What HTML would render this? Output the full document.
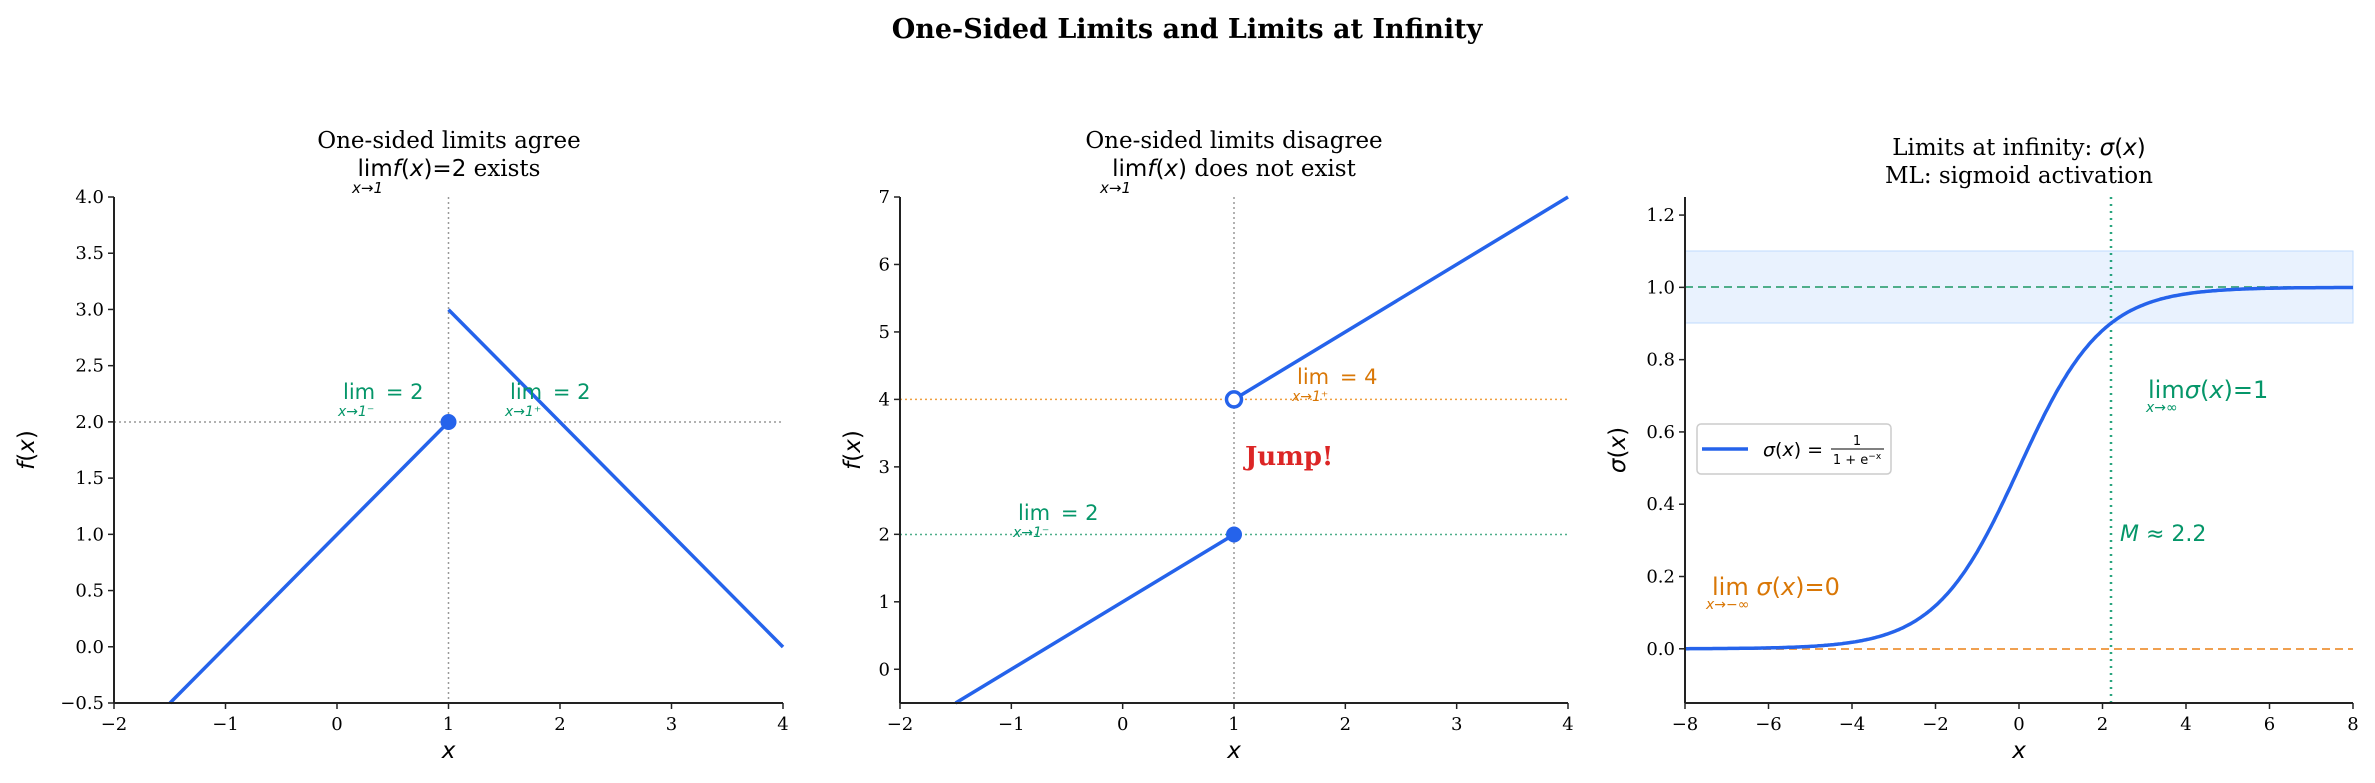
<!DOCTYPE html>
<html><head><meta charset="utf-8"><style>
body{margin:0;background:#fff}
svg{display:block}
.tk{font-family:"DejaVu Serif","Liberation Serif",serif;font-size:18px;fill:#000}
.ti{font-family:"DejaVu Serif","Liberation Serif",serif;font-size:23px;fill:#000}
.m{font-family:"DejaVu Sans","Liberation Sans",sans-serif}
</style></head><body>
<svg id="s" width="2375" height="783" viewBox="0 0 2375 783" xmlns="http://www.w3.org/2000/svg">
<text x="1187" y="38" text-anchor="middle" style="font-family:'DejaVu Serif',serif;font-size:27px;font-weight:bold">One-Sided Limits and Limits at Infinity</text>

<!-- Panel 1 -->
<g>
<text class="ti" x="449" y="148" text-anchor="middle">One-sided limits agree</text>
<text class="ti" x="449" y="176" text-anchor="middle"><tspan class="m">lim</tspan><tspan class="m" font-style="italic">f</tspan><tspan class="m">(</tspan><tspan class="m" font-style="italic">x</tspan><tspan class="m">)=2</tspan> exists</text>
<text class="m" x="352" y="193" font-size="15" font-style="italic">x→1</text>
<line x1="448.5" y1="197" x2="448.5" y2="703" stroke="#999" stroke-width="1.5" stroke-dasharray="2,3"/>
<line x1="114" y1="422" x2="783" y2="422" stroke="#999" stroke-width="1.5" stroke-dasharray="2,3"/>
<line x1="170" y1="703" x2="448.5" y2="422" stroke="#2563eb" stroke-width="3.5"/>
<line x1="448.5" y1="309.6" x2="783" y2="647" stroke="#2563eb" stroke-width="3.5"/>
<circle cx="448.5" cy="422" r="8" fill="#2563eb"/>
<text class="m" x="343" y="399" font-size="21" fill="#059669">lim <tspan dx="4">= 2</tspan></text>
<text class="m" x="338" y="416" font-size="14" fill="#059669" font-style="italic">x→1⁻</text>
<text class="m" x="510" y="399" font-size="21" fill="#059669">lim <tspan dx="4">= 2</tspan></text>
<text class="m" x="505" y="416" font-size="14" fill="#059669" font-style="italic">x→1⁺</text>
</g>

<!-- Panel 2 -->
<g>
<text class="ti" x="1234" y="148" text-anchor="middle">One-sided limits disagree</text>
<text class="ti" x="1234" y="176" text-anchor="middle"><tspan class="m">lim</tspan><tspan class="m" font-style="italic">f</tspan><tspan class="m">(</tspan><tspan class="m" font-style="italic">x</tspan><tspan class="m">)</tspan> does not exist</text>
<text class="m" x="1100" y="193" font-size="15" font-style="italic">x→1</text>
<line x1="1234" y1="197" x2="1234" y2="703" stroke="#999" stroke-width="1.5" stroke-dasharray="2,3"/>
<line x1="900" y1="399.4" x2="1568" y2="399.4" stroke="#f0a040" stroke-width="1.5" stroke-dasharray="2,3"/>
<line x1="900" y1="534.5" x2="1568" y2="534.5" stroke="#4fae8a" stroke-width="1.5" stroke-dasharray="2,3"/>
<line x1="955.6" y1="703" x2="1234" y2="534.5" stroke="#2563eb" stroke-width="3.5"/>
<line x1="1234" y1="399.4" x2="1568" y2="197" stroke="#2563eb" stroke-width="3.5"/>
<circle cx="1234" cy="534.5" r="8" fill="#2563eb"/>
<circle cx="1234" cy="399.4" r="7.5" fill="#fff" stroke="#2563eb" stroke-width="3.5"/>
<text x="1245" y="465" style="font-family:'DejaVu Serif',serif;font-size:26px;font-weight:bold" fill="#dc2626">Jump!</text>
<text class="m" x="1297" y="384" font-size="21" fill="#d97706">lim <tspan dx="4">= 4</tspan></text>
<text class="m" x="1292" y="401" font-size="14" fill="#d97706" font-style="italic">x→1⁺</text>
<text class="m" x="1018" y="520" font-size="21" fill="#059669">lim <tspan dx="4">= 2</tspan></text>
<text class="m" x="1013" y="537" font-size="14" fill="#059669" font-style="italic">x→1⁻</text>
</g>

<!-- Panel 3 -->
<g>
<text class="ti" x="2019" y="155" text-anchor="middle">Limits at infinity: <tspan class="m" font-style="italic">σ</tspan><tspan class="m">(</tspan><tspan class="m" font-style="italic">x</tspan><tspan class="m">)</tspan></text>
<text class="ti" x="2019" y="183" text-anchor="middle">ML: sigmoid activation</text>
<rect x="1685" y="251" width="668" height="72" fill="#dbeafe" fill-opacity="0.6" stroke="#bfdbfe" stroke-width="1"/>
<line x1="1685" y1="287" x2="2353" y2="287" stroke="#4fae8a" stroke-width="2" stroke-dasharray="8,5"/>
<line x1="1685" y1="649" x2="2353" y2="649" stroke="#f0a050" stroke-width="2" stroke-dasharray="8,5"/>
<line x1="2111" y1="197" x2="2111" y2="703" stroke="#059669" stroke-width="2.5" stroke-dasharray="2,5" opacity="0.85"/>
<path id="sig" fill="none" stroke="#2563eb" stroke-width="3.5"/>
<text class="m" x="2148" y="398" font-size="24" fill="#059669">lim<tspan font-style="italic">σ</tspan>(<tspan font-style="italic">x</tspan>)=1</text>
<text class="m" x="2146" y="412" font-size="14" fill="#059669" font-style="italic">x→∞</text>
<text class="m" x="2120" y="541" font-size="22" fill="#059669"><tspan font-style="italic">M</tspan> ≈ 2.2</text>
<text class="m" x="1712" y="595" font-size="24" fill="#d97706">lim <tspan font-style="italic">σ</tspan>(<tspan font-style="italic">x</tspan>)=0</text>
<text class="m" x="1706" y="609" font-size="14" fill="#d97706" font-style="italic">x→−∞</text>
<rect x="1697" y="424" width="194" height="50" rx="4" fill="#fff" fill-opacity="0.9" stroke="#ccc" stroke-width="1.5"/>
<line x1="1702" y1="449" x2="1748" y2="449" stroke="#2563eb" stroke-width="3.5"/>
<text class="m" x="1763" y="456" font-size="19"><tspan font-style="italic">σ</tspan>(<tspan font-style="italic">x</tspan>) = </text>
<text class="m" x="1857" y="445" font-size="13" text-anchor="middle">1</text>
<line x1="1831" y1="449" x2="1884" y2="449" stroke="#000" stroke-width="1"/>
<text class="m" x="1857" y="464" font-size="13" text-anchor="middle">1 + e<tspan font-size="9" dy="-5">−x</tspan></text>
</g>
<g id="axes"></g>
</svg>
<script>
(function(){
var NS="http://www.w3.org/2000/svg",g=document.getElementById("axes");
function el(t,a,txt){var e=document.createElementNS(NS,t);for(var k in a)e.setAttribute(k,a[k]);if(txt!=null)e.textContent=txt;g.appendChild(e);return e;}
function axes(x0,x1,xmin,xmax,xt,ymin,ymax,yt,fmt,ylab,loff){
 var y0=703,y1=197;
 function X(v){return x0+(v-xmin)/(xmax-xmin)*(x1-x0);}
 function Y(v){return y0-(v-ymin)/(ymax-ymin)*(y0-y1);}
 el("line",{x1:x0,y1:y0,x2:x1,y2:y0,stroke:"#222","stroke-width":2});
 el("line",{x1:x0,y1:y0,x2:x0,y2:y1,stroke:"#222","stroke-width":2});
 xt.forEach(function(v){var x=X(v);el("line",{x1:x,y1:y0,x2:x,y2:y0+6,stroke:"#222","stroke-width":1.5});
  el("text",{x:x,y:y0+27,"text-anchor":"middle","class":"tk"},(v<0?"\u2212":"")+Math.abs(v));});
 yt.forEach(function(v){var y=Y(v);el("line",{x1:x0,y1:y,x2:x0-6,y2:y,stroke:"#222","stroke-width":1.5});
  el("text",{x:x0-10,y:y+6,"text-anchor":"end","class":"tk"},(v<0?"\u2212":"")+Math.abs(v).toFixed(fmt));});
 el("text",{x:(x0+x1)/2,y:758,"text-anchor":"middle","class":"m","font-size":23,"font-style":"italic"},"x");
 var t=el("text",{x:0,y:0,"text-anchor":"middle","class":"m","font-size":23,transform:"translate("+(x0-loff)+","+((y0+y1)/2)+") rotate(-90)"});
 t.innerHTML=ylab;
 return {X:X,Y:Y};
}
function r(a,b,s){var o=[];for(var v=a;v<=b+1e-9;v+=s)o.push(Math.round(v*100)/100);return o;}
axes(114,783,-2,4,r(-2,4,1),-0.5,4,r(-0.5,4,0.5),1,'<tspan font-style="italic">f</tspan>(<tspan font-style="italic">x</tspan>)',80);
axes(900,1568,-2,4,r(-2,4,1),-0.5,7,r(0,7,1),0,'<tspan font-style="italic">f</tspan>(<tspan font-style="italic">x</tspan>)',40);
var a=axes(1685,2353,-8,8,r(-8,8,2),-0.15,1.25,r(0,1.2,0.2),1,'<tspan font-style="italic">σ</tspan>(<tspan font-style="italic">x</tspan>)',60);
var d="";for(var i=0;i<=400;i++){var x=-8+16*i/400,y=1/(1+Math.exp(-x));d+=(i?"L":"M")+a.X(x).toFixed(1)+","+a.Y(y).toFixed(1);}
document.getElementById("sig").setAttribute("d",d);
})();
</script>
</body></html>
